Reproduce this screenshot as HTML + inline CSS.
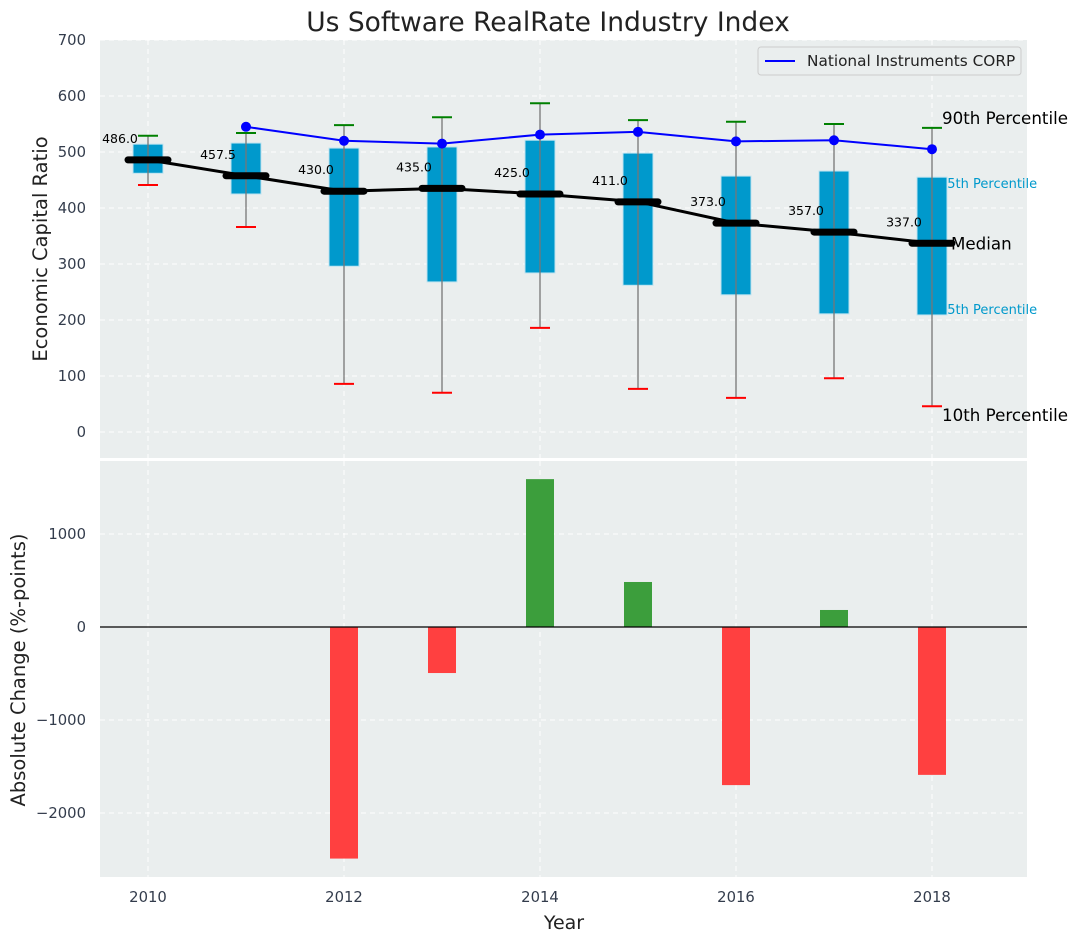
<!DOCTYPE html>
<html><head><meta charset="utf-8">
<style>
body{margin:0;background:#fff;}
svg{display:block;font-family:"DejaVu Sans","Liberation Sans",sans-serif;}
</style></head>
<body>
<svg id="chart" width="1077" height="942" xmlns="http://www.w3.org/2000/svg">
<text x="548" y="31" text-anchor="middle" font-size="26.5" fill="#222">Us Software RealRate Industry Index</text>
<rect x="100" y="40" width="927" height="418" fill="#eaeeee"/>
<rect x="100" y="461" width="927" height="416" fill="#eaeeee"/>
<g id="grid"></g>
<g id="annog"></g>
<g id="topg"></g>
<g id="botg"></g>
<text transform="translate(47,249) rotate(-90)" text-anchor="middle" font-size="19.5" fill="#222">Economic Capital Ratio</text>
<text transform="translate(25,670) rotate(-90)" text-anchor="middle" font-size="19.5" fill="#222">Absolute Change (%-points)</text>
<text x="564" y="929" text-anchor="middle" font-size="19" fill="#222">Year</text>
<g>
<rect x="758" y="47" width="263" height="28" fill="#eaeeee" stroke="#ccc" rx="3"/>
<line x1="765" y1="61" x2="795" y2="61" stroke="#0000ff" stroke-width="2"/>
<text x="807" y="66" font-size="15.3" fill="#222">National Instruments CORP</text>
</g>
</svg>
<script>
const years=[2010,2011,2012,2013,2014,2015,2016,2017,2018];
const p10=[441,366,86,70,186,77,61,96,46];
const q1=[462,425,296,268,284,262,245,211,209];
const medians=[486,457.5,430,435,425,411,373,357,337];
const q3=[514,516,507,509,521,498,457,466,455];
const p90=[529,534,548,562,587,557,554,550,543];
const niYears=[2011,2012,2013,2014,2015,2016,2017,2018];
const niValues=[545,520,515,531,536,519,521,505];
const changes=[0,0,-2490,-495,1590,484,-1700,183,-1590];
const topTicks=[0,100,200,300,400,500,600,700];
const bottomTicks=[-2000,-1000,0,1000];
const xTicks=[2010,2012,2014,2016,2018];

const NS="http://www.w3.org/2000/svg";
const X=y=>148+(y-2010)*98;
const Y1=v=>432-v*0.56;
const Y2=v=>627-v*0.093;
function mk(tag,attrs,parent,txt){const e=document.createElementNS(NS,tag);for(const k in attrs)e.setAttribute(k,attrs[k]);if(txt!==undefined)e.textContent=txt;parent.appendChild(e);return e;}
const grid=document.getElementById('grid'),annoG=document.getElementById('annog'),topG=document.getElementById('topg'),botG=document.getElementById('botg');
topTicks.forEach(t=>{
 mk('line',{x1:100,x2:1027,y1:Y1(t),y2:Y1(t),stroke:'#fff','stroke-dasharray':'5,4'},grid);
 const e=mk('text',{x:86,y:Y1(t)+5,'text-anchor':'end','font-size':14.8,fill:'#333c4c'},grid,String(t));
 
 
});
bottomTicks.forEach(t=>{
 mk('line',{x1:100,x2:1027,y1:Y2(t),y2:Y2(t),stroke:'#fff','stroke-dasharray':'5,4'},grid);
 const e=mk('text',{x:86,y:Y2(t)+5,'text-anchor':'end','font-size':14.8,fill:'#333c4c'},grid,String(t).replace('-','−'));
 
 
});
xTicks.forEach(t=>{
 mk('line',{x1:X(t),x2:X(t),y1:40,y2:458,stroke:'#fff','stroke-dasharray':'5,4'},grid);
 mk('line',{x1:X(t),x2:X(t),y1:461,y2:877,stroke:'#fff','stroke-dasharray':'5,4'},grid);
 const e=mk('text',{x:X(t),y:902,'text-anchor':'middle','font-size':14.8,fill:'#333c4c'},grid,String(t));
 
 
});
const last=years.length-1, lx=X(years[last]);
[['90th Percentile',p90[last],16.7,'#000',10,-4],['75th Percentile',q3[last],13,'#0099cc',7,11],['25th Percentile',q1[last],13,'#0099cc',7,-1],['10th Percentile',p10[last],16.7,'#000',10,15]].forEach(a=>{
 const e=mk('text',{x:lx+a[4],y:Y1(a[1])+a[5],'font-size':a[2],fill:a[3]},annoG,a[0]);
 
 
});
years.forEach((yr,i)=>{
 const x=X(yr);
 const b=mk('rect',{x:x-15,y:Y1(q3[i]),width:30,height:Y1(q1[i])-Y1(q3[i]),fill:'#0099cc',stroke:'#bde3f0','stroke-width':1},topG);
 
 
 mk('line',{x1:x,x2:x,y1:Y1(p90[i]),y2:Y1(p10[i]),stroke:'#777','stroke-width':1.3},topG);
 const g=mk('line',{x1:x-10,x2:x+10,y1:Y1(p90[i]),y2:Y1(p90[i]),stroke:'green','stroke-width':2},topG);
 
 
 const r=mk('line',{x1:x-10,x2:x+10,y1:Y1(p10[i]),y2:Y1(p10[i]),stroke:'red','stroke-width':2},topG);
 
 
});
const mp=mk('polyline',{points:years.map((y,i)=>X(y)+','+Y1(medians[i])).join(' '),fill:'none',stroke:'#000','stroke-width':3},topG);


years.forEach((yr,i)=>{
 const m=mk('line',{x1:X(yr)-20,x2:X(yr)+20,y1:Y1(medians[i]),y2:Y1(medians[i]),stroke:'#000','stroke-width':7,'stroke-linecap':'round'},topG);
 
 
 const t=mk('text',{x:X(yr)-28,y:Y1(medians[i])-17,'text-anchor':'middle','font-size':12.5,fill:'#000'},topG,medians[i].toFixed(1));
 
 
});
const ml=mk('text',{x:lx+19,y:Y1(medians[last])+6,'font-size':16.7,fill:'#000'},topG,'Median');


const ni=mk('polyline',{points:niYears.map((y,i)=>X(y)+','+Y1(niValues[i])).join(' '),fill:'none',stroke:'#0000ff','stroke-width':2},topG);


niYears.forEach((y,i)=>{
 const c=mk('circle',{cx:X(y),cy:Y1(niValues[i]),r:5,fill:'#0000ff'},topG);
 
 
});
years.forEach((yr,i)=>{
 const v=changes[i]; if(v===0)return;
 const y0=Y2(0),y1=Y2(v);
 const r=mk('rect',{x:X(yr)-14,y:Math.min(y0,y1),width:28,height:Math.abs(y1-y0),fill:v>0?'#3c9e3c':'#ff4040'},botG);
 
 
});
mk('line',{x1:100,x2:1027,y1:Y2(0),y2:Y2(0),stroke:'#000','stroke-width':1.2},botG);
</script>
</body></html>
